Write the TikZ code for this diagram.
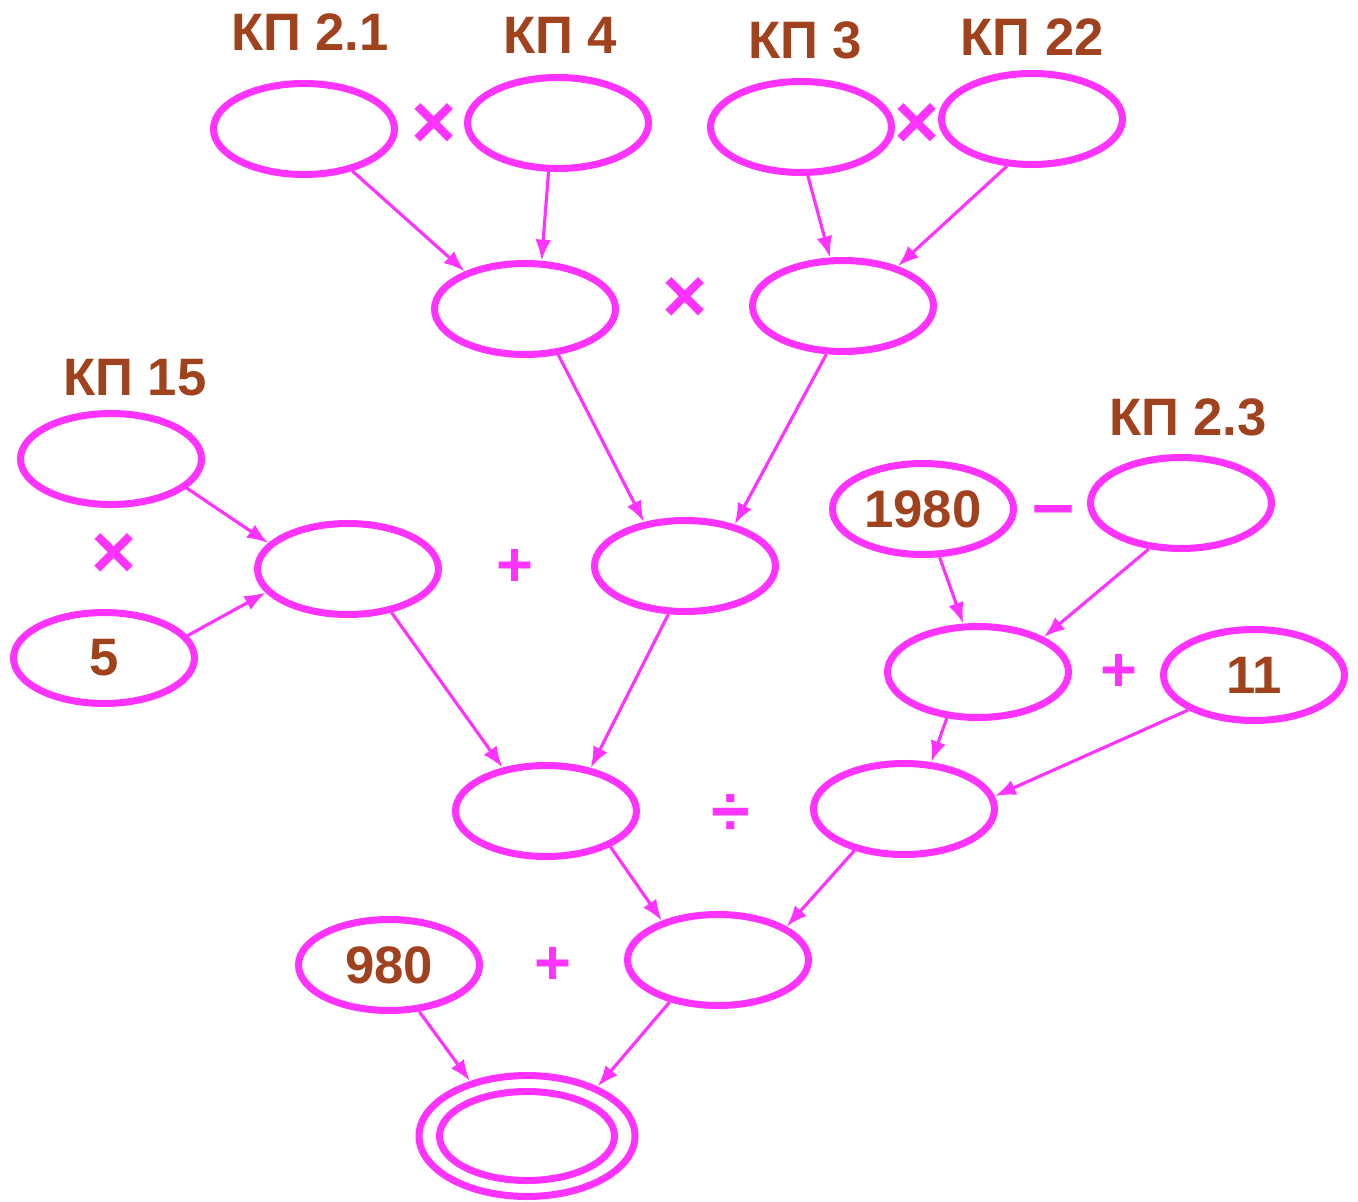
\documentclass[tikz,border=0pt]{standalone}
\usepackage{fontspec}
\setmainfont{Liberation Sans}
\usetikzlibrary{shapes.geometric,arrows.meta}
\definecolor{pinkline}{RGB}{255,51,255}
\definecolor{kpbrown}{RGB}{160,66,30}
\tikzset{
    oval/.style={ellipse, draw=pinkline, line width=4pt, minimum width=3.62cm, minimum height=1.82cm, inner sep=0pt,
        font=\fontsize{30}{32}\selectfont\bfseries, text=kpbrown},
    kp/.style={font=\fontsize{30}{32}\selectfont\bfseries, text=kpbrown},
    op/.style={font=\fontsize{36}{38}\selectfont\bfseries, text=pinkline},
    times/.style={op, font=\fontsize{44}{46}\selectfont\bfseries},
    link/.style={draw=pinkline, line width=1.8pt, -{Latex[length=12pt,width=9pt]}}
}
\begin{document}
\begin{tikzpicture}[x=0.02cm, y=-0.02cm]
        \useasboundingbox (0, 0) rectangle (1358, 1202);

        \node[oval] (a1) at (304, 129) {};
        \node[oval] (a2) at (558, 123) {};
        \node[oval] (a3) at (801, 127) {};
        \node[oval] (a4) at (1032, 119) {};
        \node[oval] (b1) at (525, 309) {};
        \node[oval] (b2) at (843, 306) {};
        \node[oval] (c1) at (111, 459) {};
        \node[oval] (c2) at (104, 658) {5};
        \node[oval] (c3) at (348, 569) {};
        \node[oval] (c4) at (685, 566) {};
        \node[oval] (d1) at (923, 509) {1980};
        \node[oval] (d2) at (1181, 503) {};
        \node[oval] (d3) at (978, 672) {};
        \node[oval] (d4) at (1254, 675) {11};
        \node[oval] (e1) at (546, 811) {};
        \node[oval] (e2) at (904, 809) {};
        \node[oval] (f1) at (718, 960) {};
        \node[oval] (f2) at (389, 965) {980};
        \node[oval, minimum width=4.32cm, minimum height=2.42cm] (res) at (527, 1136) {};
        \node[oval, minimum width=3.5cm, minimum height=1.78cm] (resin) at (res) {};

        \node[kp] (l1) at (310, 32) {КП 2.1};
        \node[kp] (l2) at (560, 35) {КП 4};
        \node[kp] (l3) at (805, 40) {КП 3};
        \node[kp] (l4) at (1032, 37) {КП 22};
        \node[kp] (l5) at (135, 378) {КП 15};
        \node[kp] (l6) at (1188, 417) {КП 2.3};

        \node[times] (o1) at (434, 126) {×};
        \node[times] (o2) at (917, 126) {×};
        \node[times] (o3) at (685, 300) {×};
        \node[times] (o4) at (114, 556) {×};
        \node[op] (o5) at (515, 568) {+};
        \node[op, font=\fontsize{43}{45}\selectfont\bfseries] (o6) at (1053, 517) {–};
        \node[op] (o7) at (1119, 673) {+};
        \node[op, font=\fontsize{40}{42}\selectfont\bfseries] (o8) at (731, 815) {÷};
        \node[op] (o9) at (553, 966) {+};

        \draw[link] (a1.-41) -- (b1.148);
        \draw[link] (a2.-101) -- (b1.71);
        \draw[link] (a3.-82) -- (b2.105);
        \draw[link] (a4.-118) -- (b2.36);
        \draw[link] (b1.-54) -- (c4.133);
        \draw[link] (b2.-109) -- (c4.40);
        \draw[link] (c1.-21) -- (c3.162);
        \draw[link] (c2.15) -- (c3.-164);
        \draw[link] (c3.-45) -- (e1.135);
        \draw[link] (c4.-109) -- (e1.44);
        \draw[link] (d1.-71) -- (d3.107);
        \draw[link] (d2.-125) -- (d3.28);
        \draw[link] (d3.-124) -- (e2.60);
        \draw[link] (d4.-152) -- (e2.8);
        \draw[link] (e1.-29) -- (f1.145);
        \draw[link] (e2.-140) -- (f1.26);
        \draw[link] (f2.-57) -- (res.136);
        \draw[link] (f1.-139) -- (res.35);
    \end{tikzpicture}
\end{document}
